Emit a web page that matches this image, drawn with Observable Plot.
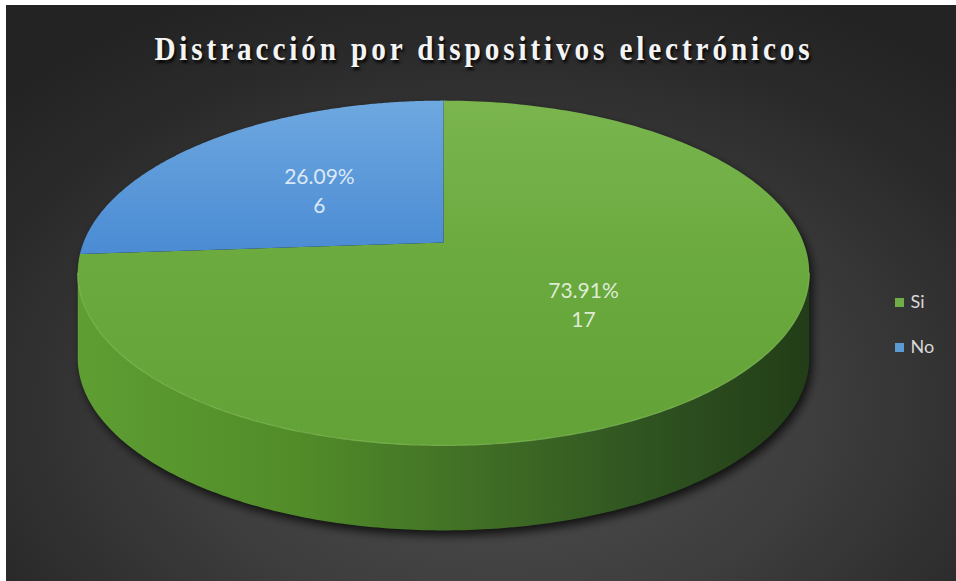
<!DOCTYPE html>
<html>
<head>
<meta charset="utf-8">
<script src="https://cdn.jsdelivr.net/npm/d3@7"></script>
<script src="https://cdn.jsdelivr.net/npm/@observablehq/plot@0.6"></script>
<style>
html, body { margin: 0; padding: 0; background: #ffffff; width: 956px; height: 581px; overflow: hidden; }
#bg { position: absolute; left: 6px; top: 5px; width: 950px; height: 576px;
  background: radial-gradient(ellipse 72% 80% at 52% 70%, #4f4f4f 0%, #3e3e3e 45%, #2a2a2a 80%, #232323 100%); }
#title { position: absolute; left: 0; top: 32px; width: 956px; text-align: center;
  font-family: "Liberation Serif", "DejaVu Serif", serif; font-weight: bold; font-size: 34px; line-height: 34px;
  letter-spacing: 4.5px; color: #f4f4f4; text-shadow: 2px 3px 3px rgba(0,0,0,0.85);
  transform: translateX(6px) scaleX(0.86); transform-origin: 478px 0; }
#chart { position: absolute; left: 0; top: 0; }
</style>
</head>
<body>
<div id="bg"></div>
<div id="title">Distracción por dispositivos electrónicos</div>
<div id="chart"></div>
<script>
// ---- data ----
const categories = ["Si", "No"];
const counts = [17, 6];
const percentLabels = ["73.91%", "26.09%"];
const legendColors = ["#70ad47", "#5b9bd5"];

// ---- geometry of the 3D pie (perspective ellipse) ----
const cx = 443, cy = 242, rx = 360, ry = 167, k = 0.177, depth = 85;
function proj(a, f = 1, dy = 0) {
  const u = Math.sin(a) * f, v = -Math.cos(a) * f, s = 1 / (1 - k * v);
  return { x: cx + rx * u * s, y: cy + ry * v * s + dy };
}
function arcPts(a0, a1, n, f = 1, dy = 0) {
  const pts = [];
  for (let i = 0; i <= n; i++) pts.push(proj(a0 + (a1 - a0) * i / n, f, dy));
  return pts;
}

const arcs = d3.pie().sort(null)(counts);
const topFaces = arcs.map((arc, i) => [{ x: cx, y: cy }, ...arcPts(arc.startAngle, arc.endAngle, 240)]);

const aR = Math.acos(-k);            // right silhouette angle
const aL = 2 * Math.PI - aR;         // left silhouette angle
const sidePoly = [...arcPts(aR, aL, 240), ...arcPts(aL, aR, 240, 1, depth)];
const frontEdge = arcPts(aR, aL, 240);
const shadowPoly = [...arcPts(aR, aL, 240, 1, depth), ...arcPts(aL, aR + 2 * Math.PI, 240)]
  .map(p => ({ x: p.x + 3, y: p.y + 5 }));

const labels = arcs.map((arc, i) => {
  const p = proj((arc.startAngle + arc.endAngle) / 2, 0.5);
  return { x: p.x, y: p.y, text: percentLabels[i] + "\n" + counts[i] };
});

const legend = categories.map((c, i) => ({ name: c, color: legendColors[i], y: 302 + i * 45 }));

const topFills = ["url(#gTopGreen)", "url(#gTopBlue)"];

const svg = Plot.plot({
  width: 956,
  height: 581,
  margin: 0,
  x: { domain: [0, 956], range: [0, 956], axis: null },
  y: { domain: [0, 581], range: [0, 581], axis: null },
  color: { type: "identity" },
  style: { background: "transparent", overflow: "visible" },
  marks: [
    Plot.line(shadowPoly, { x: "x", y: "y", fill: "#000000", fillOpacity: 0.75, stroke: "none" }),
    Plot.line(sidePoly, { x: "x", y: "y", fill: "url(#gSide)", stroke: "none" }),
    ...topFaces.map((pts, i) => Plot.line(pts, { x: "x", y: "y", fill: topFills[i], stroke: "none" })),
    Plot.line(frontEdge, { x: "x", y: "y", stroke: "#86c25c", strokeWidth: 1.2, strokeOpacity: 0.7 }),
    Plot.text(labels, {
      x: "x", y: "y", text: "text", fill: "#ffffff", fillOpacity: 0.8,
      fontSize: 21, lineHeight: 1.38, fontFamily: "Lato, 'Open Sans', sans-serif"
    }),
    Plot.dot(legend, { x: () => 899, y: "y", symbol: "square", r: 5.1, fill: "color", stroke: "none" }),
    Plot.text(legend, {
      x: () => 910, y: "y", text: "name", textAnchor: "start", fill: "#d9d9d9",
      fontSize: 18, fontFamily: "Lato, 'Open Sans', sans-serif"
    })
  ]
});

const defs = d3.select(svg).insert("defs", ":first-child");
function linGrad(id, x2, y2, stops) {
  const g = defs.append("linearGradient").attr("id", id)
    .attr("x1", 0).attr("y1", 0).attr("x2", x2).attr("y2", y2);
  stops.forEach(([o, c]) => g.append("stop").attr("offset", o).attr("stop-color", c));
}
linGrad("gTopGreen", 0, 1, [[0, "#7ab54e"], [0.5, "#6aa93e"], [1, "#62a236"]]);
linGrad("gTopBlue", 0, 1, [[0, "#6ea8e0"], [1, "#4a8bd3"]]);
linGrad("gSide", 1, 0, [[0, "#5e9e32"], [0.3, "#518c29"], [0.55, "#406e25"], [0.8, "#2e5120"], [1, "#223d17"]]);
const filt = defs.append("filter").attr("id", "blur")
  .attr("x", "-10%").attr("y", "-10%").attr("width", "120%").attr("height", "130%");
filt.append("feGaussianBlur").attr("stdDeviation", 5);
d3.select(d3.select(svg).selectAll("g[aria-label='line']").nodes()[0]).attr("filter", "url(#blur)");

document.getElementById("chart").appendChild(svg);
</script>
</body>
</html>
